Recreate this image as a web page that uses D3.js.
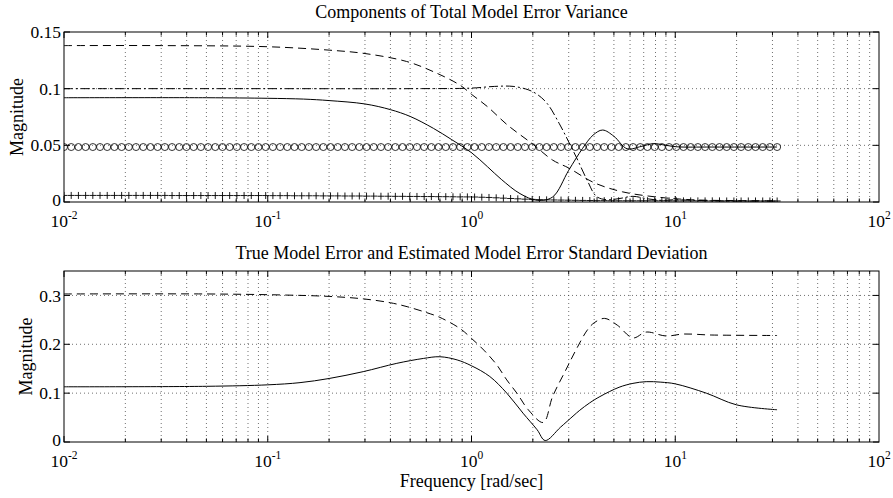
<!DOCTYPE html>
<html><head><meta charset="utf-8">
<script src="https://cdn.jsdelivr.net/npm/d3@7"></script>
<style>
body{margin:0;background:#fff}
text{font-family:"Liberation Serif","Times New Roman",Times,serif;fill:#000}
</style>
</head><body>
<svg id="chart" width="893" height="498"></svg>
<script>
// ---------------- DATA ----------------
const titles = ["Components of Total Model Error Variance",
                "True Model Error and Estimated Model Error Standard Deviation"];
const yLabel = "Magnitude";
const xLabel = "Frequency [rad/sec]";
const xDecades = [-2, -1, 0, 1, 2];
const topYTicks = [0, 0.05, 0.1, 0.15];
const topYTickLabels = ["0", "0.05", "0.1", "0.15"];
const botYTicks = [0, 0.1, 0.2, 0.3];
const botYTickLabels = ["0", "0.1", "0.2", "0.3"];

// Top panel – line series (frequency in rad/sec, magnitude)
const topDashedF = [0.01, 0.03, 0.1, 0.2, 0.3, 0.48, 0.65, 0.88, 1.0, 1.2, 1.5, 2.0, 2.5, 3.0, 4.0, 5.5, 8, 12, 20, 31.6];
const topDashedV = [0.138, 0.138, 0.137, 0.134, 0.131, 0.124, 0.115, 0.103, 0.095, 0.084, 0.068, 0.051, 0.037, 0.030, 0.017, 0.009, 0.0045, 0.002, 0.0012, 0.001];

const topDashDotF = [0.01, 0.1, 0.5, 1.0, 1.3, 1.6, 1.9, 2.1, 2.35, 2.7, 3.0, 3.3, 3.7, 4.1, 4.6, 5.3, 6.2, 7.2, 8.5, 10, 15, 31.6];
const topDashDotV = [0.1, 0.1, 0.1, 0.1005, 0.102, 0.102, 0.099, 0.095, 0.087, 0.069, 0.053, 0.038, 0.019, 0.005, 0.002, 0.003, 0.005, 0.003, 0.0015, 0.002, 0.001, 0.0008];

const topSolidF = [0.01, 0.05, 0.1, 0.15, 0.2, 0.3, 0.4, 0.5, 0.65, 0.8, 1.0, 1.2, 1.4, 1.73, 2.1, 2.5, 3.0, 3.5, 3.95, 4.4, 5.0, 5.8, 6.8, 7.8, 9.0, 10.2, 15, 31.6];
const topSolidV = [0.092, 0.092, 0.0915, 0.0908, 0.0895, 0.0865, 0.0815, 0.0755, 0.065, 0.055, 0.0435, 0.031, 0.020, 0.0074, 0.0015, 0.0044, 0.028, 0.047, 0.059, 0.0635, 0.058, 0.047, 0.049, 0.0515, 0.050, 0.0487, 0.0485, 0.0485];

// Top panel – marker series, sampled on the frequency vector logspace(-2, 1.5, 100)
const markerLogStart = -2, markerLogEnd = 1.5, markerCount = 100;
const circleV = [
 0.0485,0.0485,0.0485,0.0485,0.0485,0.0485,0.0485,0.0485,0.0485,0.0485,
 0.0485,0.0485,0.0485,0.0485,0.0485,0.0485,0.0485,0.0485,0.0485,0.0485,
 0.0485,0.0485,0.0485,0.0485,0.0485,0.0485,0.0485,0.0485,0.0485,0.0485,
 0.0485,0.0485,0.0485,0.0485,0.0485,0.0485,0.0485,0.0485,0.0485,0.0485,
 0.0485,0.0485,0.0485,0.0485,0.0485,0.0485,0.0485,0.0485,0.0485,0.0485,
 0.0485,0.0485,0.0485,0.0485,0.0485,0.0485,0.0485,0.0485,0.0485,0.0485,
 0.0485,0.0485,0.0485,0.0485,0.0485,0.0485,0.0485,0.0485,0.0485,0.0485,
 0.0485,0.0485,0.0485,0.0485,0.0485,0.0485,0.0485,0.0485,0.0485,0.0485,
 0.0485,0.0485,0.0485,0.0485,0.0485,0.0485,0.0485,0.0485,0.0485,0.0485,
 0.0485,0.0485,0.0485,0.0485,0.0485,0.0485,0.0485,0.0485,0.0485,0.0485];
const plusV = [
 0.0058,0.0058,0.0058,0.0058,0.0058,0.0058,0.0058,0.0058,0.0058,0.0058,
 0.0058,0.0058,0.0058,0.0058,0.0058,0.0057,0.0057,0.0057,0.0057,0.0057,
 0.0057,0.0057,0.0057,0.0057,0.0057,0.0057,0.0057,0.0057,0.0057,0.0056,
 0.0056,0.0056,0.0055,0.0055,0.0055,0.0055,0.0054,0.0054,0.0054,0.0053,
 0.0053,0.0053,0.0052,0.0052,0.0051,0.0051,0.0050,0.0050,0.0049,0.0049,
 0.0048,0.0048,0.0047,0.0047,0.0046,0.0045,0.0045,0.0044,0.0042,0.0040,
 0.0037,0.0034,0.0031,0.0028,0.0025,0.0023,0.0021,0.0019,0.0018,0.0017,
 0.0016,0.0015,0.0014,0.0013,0.0012,0.0012,0.0011,0.0011,0.0011,0.0011,
 0.0011,0.0011,0.0011,0.0011,0.0010,0.0010,0.0010,0.0010,0.0010,0.0010,
 0.0010,0.0010,0.0009,0.0009,0.0009,0.0009,0.0009,0.0009,0.0009,0.0009];

// Bottom panel
const botDashedF = [0.01, 0.05, 0.115, 0.2, 0.294, 0.4, 0.483, 0.6, 0.7, 0.88, 1.0, 1.15, 1.33, 1.49, 1.67, 1.9, 2.25, 2.5, 2.9, 3.3, 3.7, 4.0, 4.5, 5.2, 6.2, 7.2, 9.0, 11, 15, 31.6];
const botDashedV = [0.303, 0.303, 0.301, 0.298, 0.293, 0.285, 0.277, 0.265, 0.255, 0.232, 0.212, 0.188, 0.158, 0.127, 0.100, 0.066, 0.040, 0.093, 0.147, 0.193, 0.229, 0.244, 0.253, 0.239, 0.213, 0.225, 0.217, 0.221, 0.219, 0.218];

const botSolidF = [0.01, 0.05, 0.1, 0.144, 0.2, 0.294, 0.43, 0.58, 0.7, 0.85, 1.0, 1.23, 1.49, 1.79, 2.1, 2.3, 2.73, 3.15, 3.4, 3.8, 4.27, 5.3, 6.2, 7.2, 8.5, 10, 14.2, 20, 31.6];
const botSolidV = [0.113, 0.114, 0.117, 0.1215, 0.130, 0.144, 0.161, 0.171, 0.1745, 0.168, 0.156, 0.134, 0.100, 0.059, 0.025, 0.003, 0.030, 0.053, 0.065, 0.080, 0.093, 0.112, 0.120, 0.1235, 0.1225, 0.119, 0.100, 0.076, 0.066];

// ---------------- DRAWING ----------------
const svg = d3.select("#chart");
svg.append("rect").attr("width", 893).attr("height", 498).attr("fill", "#fff");

const FS = 18, TFS = 17.5;
const left = 64, right = 879;
const x = d3.scaleLog().domain([1e-2, 1e2]).range([left, right]);

const minorTicks = [];
xDecades.slice(0, -1).forEach(e => {
  for (let m = 1; m <= 9; m++) minorTicks.push(m * Math.pow(10, e));
});
const gridX = minorTicks.filter(v => v > 1e-2 * 1.0001);
const majorX = xDecades.map(e => Math.pow(10, e));

function zip(f, v) { return f.map((d, i) => [d, v[i]]); }

function panel(cfg) {
  const y = d3.scaleLinear().domain(cfg.yDomain).range([cfg.bottom, cfg.top]);
  const g = svg.append("g");
  const clipId = "clip" + cfg.id;
  svg.append("clipPath").attr("id", clipId).append("rect")
    .attr("x", left).attr("y", cfg.top - 6).attr("width", right - left).attr("height", cfg.bottom - cfg.top + 6);

  // grid
  const grid = g.append("g").attr("stroke", "#000").attr("stroke-width", 0.7)
    .attr("stroke-dasharray", "1,3").attr("opacity", 0.8);
  gridX.forEach(v => {
    grid.append("line").attr("x1", x(v)).attr("x2", x(v)).attr("y1", cfg.top).attr("y2", cfg.bottom);
  });
  cfg.yTicks.filter(v => v > cfg.yDomain[0] && v < cfg.yDomain[1]).forEach(v => {
    grid.append("line").attr("x1", left).attr("x2", right).attr("y1", y(v)).attr("y2", y(v));
  });

  // ticks (inward, all four sides)
  const tk = g.append("g").attr("stroke", "#000").attr("stroke-width", 1);
  minorTicks.forEach(v => {
    const isMajor = majorX.some(m => Math.abs(m - v) / m < 1e-6);
    const len = isMajor ? 6 : 3.5;
    tk.append("line").attr("x1", x(v)).attr("x2", x(v)).attr("y1", cfg.bottom).attr("y2", cfg.bottom - len);
    tk.append("line").attr("x1", x(v)).attr("x2", x(v)).attr("y1", cfg.top).attr("y2", cfg.top + len);
  });
  cfg.yTicks.forEach(v => {
    tk.append("line").attr("x1", left).attr("x2", left + 6).attr("y1", y(v)).attr("y2", y(v));
    tk.append("line").attr("x1", right).attr("x2", right - 6).attr("y1", y(v)).attr("y2", y(v));
  });

  // series
  const line = d3.line().x(d => x(d[0])).y(d => y(d[1])).curve(d3.curveCatmullRom.alpha(0.5));
  const sg = g.append("g").attr("clip-path", `url(#${clipId})`);
  cfg.lines.forEach(s => {
    sg.append("path").attr("d", line(zip(s.f, s.v))).attr("fill", "none")
      .attr("stroke", "#000").attr("stroke-width", 1)
      .attr("stroke-dasharray", s.dash || null);
  });
  (cfg.markers || []).forEach(s => {
    const pts = zip(s.f, s.v);
    if (s.type === "circle") {
      sg.selectAll(null).data(pts).enter().append("circle")
        .attr("cx", d => x(d[0])).attr("cy", d => y(d[1])).attr("r", 3.5)
        .attr("fill", "none").attr("stroke", "#000").attr("stroke-width", 0.8);
    } else {
      sg.selectAll(null).data(pts).enter().append("path")
        .attr("d", d => {
          const cx = x(d[0]), cy = y(d[1]), r = 3.5;
          return `M${cx - r},${cy}H${cx + r}M${cx},${cy - r}V${cy + r}`;
        })
        .attr("stroke", "#000").attr("stroke-width", 0.9).attr("fill", "none");
    }
  });

  // box
  g.append("rect").attr("x", left).attr("y", cfg.top).attr("width", right - left)
    .attr("height", cfg.bottom - cfg.top).attr("fill", "none").attr("stroke", "#000").attr("stroke-width", 1);

  // y tick labels
  cfg.yTicks.forEach((v, i) => {
    g.append("text").attr("x", left - 3).attr("y", y(v)).attr("dy", i === 0 ? "0.25em" : "0.35em")
      .attr("text-anchor", "end").attr("font-size", TFS).text(cfg.yTickLabels[i]);
  });
  // x tick labels
  xDecades.forEach(e => {
    const t = g.append("text").attr("x", x(Math.pow(10, e))).attr("y", cfg.bottom + 25)
      .attr("text-anchor", "middle").attr("font-size", TFS);
    t.append("tspan").text("10");
    t.append("tspan").attr("dy", -8.5).attr("font-size", 11.5).text(String(e));
  });
  // title
  g.append("text").attr("x", (left + right) / 2).attr("y", cfg.titleY)
    .attr("text-anchor", "middle").attr("font-size", FS).text(cfg.title);
  // y label
  g.append("text").attr("transform", `translate(${cfg.yLabelX},${(cfg.top + cfg.bottom) / 2}) rotate(-90)`)
    .attr("text-anchor", "middle").attr("font-size", FS).text(yLabel);
  return y;
}

const mf = d3.range(markerCount).map(i => Math.pow(10, markerLogStart + (markerLogEnd - markerLogStart) * i / (markerCount - 1)));

panel({
  id: 1, top: 32, bottom: 202, yDomain: [0, 0.15],
  yTicks: topYTicks, yTickLabels: topYTickLabels,
  title: titles[0], titleY: 18, yLabelX: 23,
  lines: [
    { f: topDashedF, v: topDashedV, dash: "8,5" },
    { f: topDashDotF, v: topDashDotV, dash: "9,3,2,3" },
    { f: topSolidF, v: topSolidV }
  ],
  markers: [
    { f: mf, v: circleV, type: "circle" },
    { f: mf, v: plusV, type: "plus" }
  ]
});

panel({
  id: 2, top: 271, bottom: 442, yDomain: [0, 0.35],
  yTicks: botYTicks, yTickLabels: botYTickLabels,
  title: titles[1], titleY: 259, yLabelX: 32,
  lines: [
    { f: botDashedF, v: botDashedV, dash: "8,5" },
    { f: botSolidF, v: botSolidV }
  ]
});

svg.append("text").attr("x", (left + right) / 2).attr("y", 487)
  .attr("text-anchor", "middle").attr("font-size", FS).text(xLabel);
</script>
</body></html>
